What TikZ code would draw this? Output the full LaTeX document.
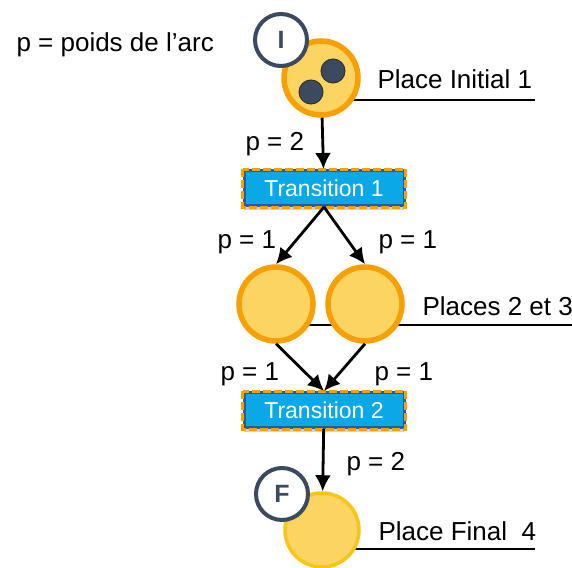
\documentclass[tikz,border=0pt]{standalone}
\usepackage{fontspec}
\setmainfont{Liberation Sans}
\usepackage{tikz}
\usetikzlibrary{arrows.meta, shadows, backgrounds}

\definecolor{gelb}{HTML}{FBD462}
\definecolor{orangerand}{HTML}{F7A000}
\definecolor{gelbrand}{HTML}{F8C515}
\definecolor{dunkel}{HTML}{3B4A5E}
\definecolor{cyan}{HTML}{0AA8E6}
\definecolor{blaurand}{HTML}{1F5F9F}

\begin{document}
\begin{tikzpicture}[x=1pt, y=-1pt,
		>={Latex[length=16pt,width=16pt]},   %Pfeilspitzen
		font=\fontsize{26}{30}\selectfont,
		platz/.style={circle, draw=orangerand, fill=gelb, line width=5.5pt, minimum size=74pt, inner sep=0pt},
		marke/.style={circle, draw=black!80, fill=dunkel, line width=1pt, minimum size=24pt, inner sep=0pt},
		etikett/.style={circle, draw=dunkel, fill=white, line width=4pt, minimum size=52pt, inner sep=0pt, font=\fontsize{25}{27}\selectfont\bfseries, text=dunkel},
		uebergang/.style={rectangle, draw=blaurand, fill=cyan, line width=3pt, minimum width=160pt, minimum height=35pt, inner sep=0pt, text=white, font=\fontsize{23}{25}\selectfont,
			drop shadow={shadow xshift=0pt, shadow yshift=-4pt, opacity=0.35}},
		kante/.style={->, line width=2.8pt}]
		\useasboundingbox (0,0) rectangle (572,567);
		% Legende
		\node[anchor=base west] (legende) at (13,52) {p = poids de l’arc};
		% Plaetze
		\node[platz, drop shadow={shadow xshift=0pt, shadow yshift=-2pt, opacity=0.25}] (p1) at (321,78) {};
		\node[marke] (m1) at (311,92) {};
		\node[marke] (m2) at (333,71) {};
		\node[etikett] (lI) at (281,40) {I};
		\node[platz, drop shadow={shadow xshift=0pt, shadow yshift=-2pt, opacity=0.25}] (p2) at (276,304) {};
		\node[platz, drop shadow={shadow xshift=0pt, shadow yshift=-2pt, opacity=0.25}] (p3) at (365,304) {};
		\node[platz, draw=gelbrand, line width=3.5pt] (p4) at (322,530) {};
		\node[etikett] (lF) at (282,494) {F};
		% Transitionen
		\node[uebergang] (t1) at (324,188) {Transition 1};
		\node[uebergang] (t2) at (324,410) {Transition 2};
		\foreach \t in {t1,t2}
			\draw[orangerand, line width=3pt, dash pattern=on 8pt off 3pt] (\t.north west) rectangle (\t.south east);
		% Beschriftungen
		\node[anchor=base west] (n1) at (374,89) {Place Initial 1};
		\node[anchor=base west] (n2) at (419,315) {Places 2 et 3};
		\node[anchor=base west] (n3) at (375,540) {Place Final\ \ 4};
		\begin{pgfonlayer}{background}
			\draw[line width=1.5pt] (p1.center |- 0,100) -- (535,100);
			\draw[line width=1.5pt] (p2.center |- 0,325) -- (572,325);
			\draw[line width=1.5pt] (p4.center |- 0,549) -- (535,549);
		\end{pgfonlayer}
		% Kanten
		\draw[kante] (p1) -- (t1);
		\draw[kante] (t1.south) -- (p2.north);
		\draw[kante] (t1.south) -- (p3.north);
		\draw[kante] (p2.south) -- (t2.north);
		\draw[kante] (p3.south) -- (t2.north);
		\draw[kante] (t2) -- (p4);
		% Gewichte
		\node[anchor=base west] (w1) at (242,150) {p = 2};
		\node[anchor=base west] (w2) at (214,248) {p = 1};
		\node[anchor=base west] (w3) at (375,248) {p = 1};
		\node[anchor=base west] (w4) at (217,380) {p = 1};
		\node[anchor=base west] (w5) at (371,380) {p = 1};
		\node[anchor=base west] (w6) at (343,470) {p = 2};
	\end{tikzpicture}
\end{document}
